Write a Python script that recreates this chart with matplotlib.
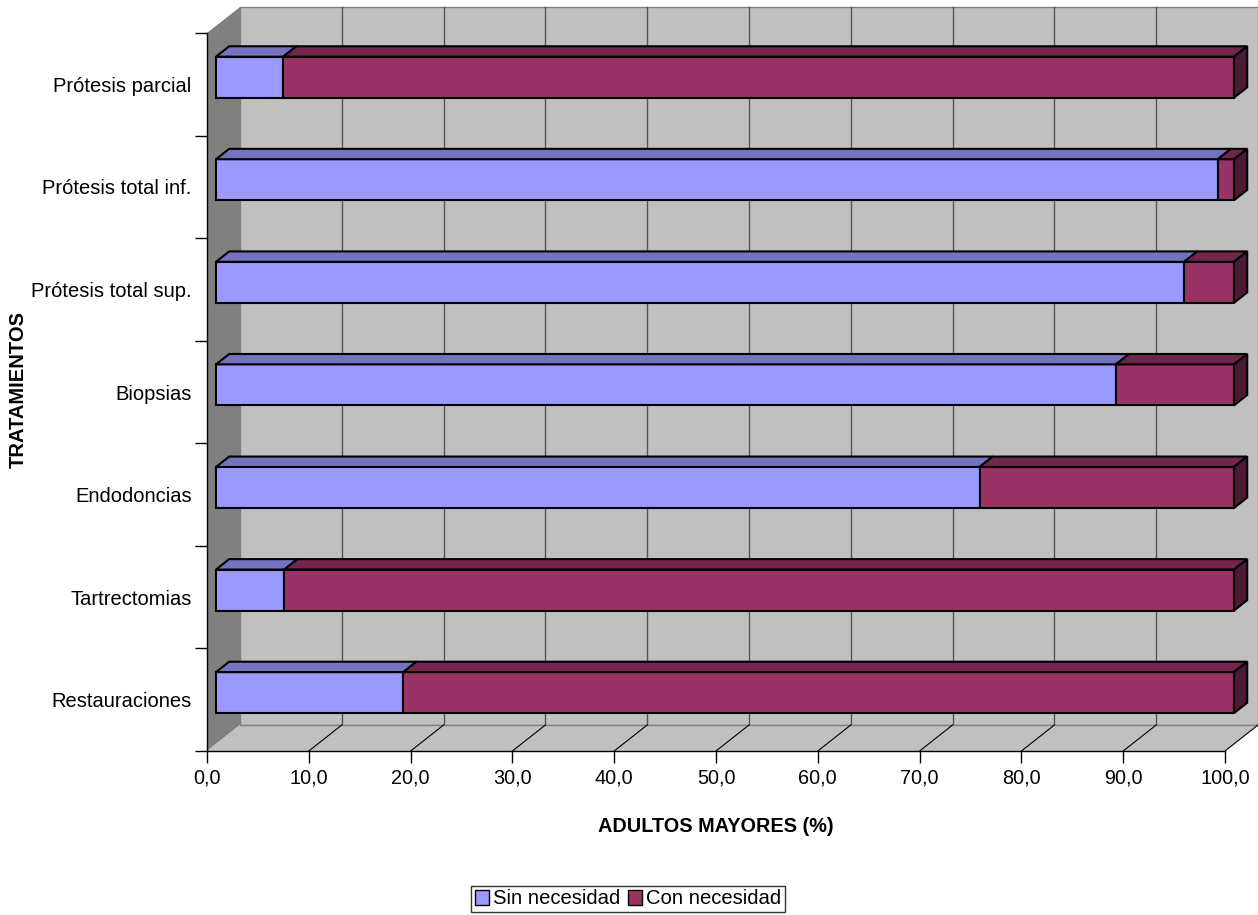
import matplotlib
matplotlib.use("Agg")
import matplotlib.pyplot as plt
from matplotlib.patches import Polygon, Patch

plt.rcParams['font.family'] = ['Liberation Sans', 'DejaVu Sans']

# data (percent of older adults), bottom to top
categorias = ['Restauraciones', 'Tartrectomias', 'Endodoncias', 'Biopsias',
              'Prótesis total sup.', 'Prótesis total inf.', 'Prótesis parcial']
sin_necesidad = [18.4, 6.7, 75.0, 88.4, 95.1, 98.4, 6.6]
con_necesidad = [100 - v for v in sin_necesidad]
x_ticks = [0, 10, 20, 30, 40, 50, 60, 70, 80, 90, 100]

# colours (Excel 97 style)
SIN_FRONT, SIN_TOP = '#9999FF', '#7373BF'
CON_FRONT, CON_TOP, CON_SIDE = '#993366', '#73264D', '#4D1A33'
WALL, SIDE_WALL, GRID = '#C0C0C0', '#808080', '#555555'

W, H = 1258, 915
fig = plt.figure(figsize=(W / 100, H / 100), dpi=100)
ax = fig.add_axes([207 / W, (H - 751) / H, (1225 - 207) / W, (751 - 33) / H])
n = len(categorias)
ax.set_xlim(0, 100)
ax.set_ylim(0, n)

# depth of the 3d box, in data units
DX = 33 / ((1225 - 207) / 100)
DY = 26 / ((751 - 33) / n)


def off(t):
    return t * DX, t * DY


def poly(pts, fc, ec='black', lw=1.5, z=3):
    ax.add_patch(Polygon(pts, closed=True, facecolor=fc, edgecolor=ec,
                         linewidth=lw, zorder=z, clip_on=False,
                         joinstyle='miter'))


# walls and floor
poly([(DX, DY), (100 + DX, DY), (100 + DX, n + DY), (DX, n + DY)], WALL, ec=SIDE_WALL, lw=1.0, z=1)
for v in x_ticks[1:-1]:
    ax.plot([v + DX, v + DX], [DY, n + DY], color=GRID, lw=1.0, zorder=1.2, clip_on=False)
poly([(0, 0), (DX, DY), (DX, n + DY), (0, n)], SIDE_WALL, ec='none', lw=0, z=1.3)
poly([(0, 0), (100, 0), (100 + DX, DY), (DX, DY)], WALL, ec='none', lw=0, z=1.3)
ax.plot([DX, 100 + DX], [DY, DY], color=SIDE_WALL, lw=1.0, zorder=1.4, clip_on=False)
for v in x_ticks[1:]:
    ax.plot([v, v + DX], [0, DY], color='black', lw=0.8, zorder=1.5, clip_on=False)

# bars
T0, T1 = 0.273, 0.673
HALF = 0.2
ox0, oy0 = off(T0)
ox1, oy1 = off(T1)
for i, (s, c) in enumerate(zip(sin_necesidad, con_necesidad)):
    yc = i + 0.5 + oy0
    yb, yt = yc - HALF, yc + HALF
    dy = oy1 - oy0
    segs = [(0, s, SIN_FRONT, SIN_TOP), (s, s + c, CON_FRONT, CON_TOP)]
    for x0, x1, front, top in segs:
        poly([(x0 + ox0, yb), (x1 + ox0, yb), (x1 + ox0, yt), (x0 + ox0, yt)], front)
        poly([(x0 + ox0, yt), (x1 + ox0, yt), (x1 + ox1, yt + dy), (x0 + ox1, yt + dy)], top)
    end = s + c
    poly([(end + ox0, yb), (end + ox0, yt), (end + ox1, yt + dy), (end + ox1, yb + dy)], CON_SIDE)

# axes, ticks, labels
for side in ['top', 'right']:
    ax.spines[side].set_visible(False)
ax.spines['left'].set_linewidth(1.0)
ax.spines['bottom'].set_linewidth(1.0)
ax.spines['left'].set_zorder(2)
ax.spines['bottom'].set_zorder(2)
ax.set_xticks(x_ticks)
ax.set_xticklabels([f'{v:.1f}'.replace('.', ',') for v in x_ticks], fontsize=14.3)
ax.tick_params(axis='x', direction='out', length=8.5, width=1.0, pad=4)
ax.set_yticks(range(n + 1))
ax.set_yticklabels([])
ax.tick_params(axis='y', which='major', direction='out', length=8.5, width=1.0)
ax.set_yticks([i + 0.5 for i in range(n)], minor=True)
ax.set_yticklabels(categorias, minor=True, fontsize=14.5)
ax.tick_params(axis='y', which='minor', length=0, pad=11)

fig.text(18 / W, (H - 390) / H, 'TRATAMIENTOS', rotation=90, fontsize=14.5,
         fontweight='bold', ha='center', va='center')
fig.text(716 / W, (H - 827) / H, 'ADULTOS MAYORES (%)', fontsize=14.3,
         fontweight='bold', ha='center', va='center')

handles = [Patch(facecolor=SIN_FRONT, edgecolor='black', linewidth=1.0),
           Patch(facecolor=CON_FRONT, edgecolor='black', linewidth=1.0)]
leg = fig.legend(handles, ['Sin necesidad', 'Con necesidad'], loc='center',
                 bbox_to_anchor=(628 / W, (H - 899) / H), ncol=2, fontsize=14.6,
                 frameon=True, fancybox=False, edgecolor='black',
                 handlelength=0.7, handleheight=0.7, handletextpad=0.2,
                 columnspacing=0.4, borderpad=0.15, borderaxespad=0)
leg.get_frame().set_linewidth(1.0)

fig.savefig('out.png', dpi=100, facecolor='white')
